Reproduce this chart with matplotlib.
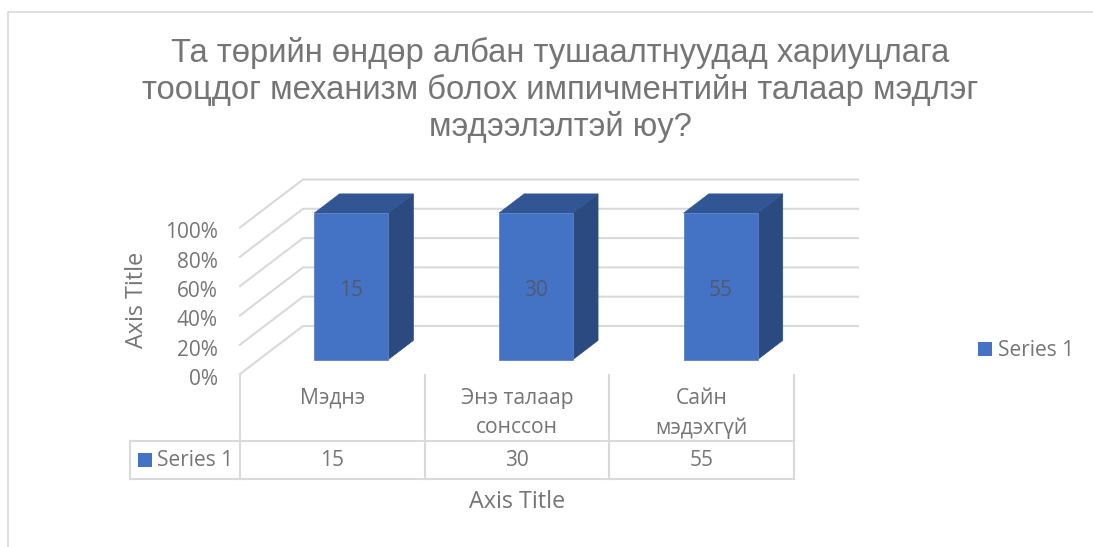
import matplotlib
matplotlib.use('Agg')
import matplotlib.pyplot as plt
from matplotlib.patches import Polygon, Rectangle
from matplotlib.transforms import ScaledTranslation

title = 'Та төрийн өндөр албан тушаалтнуудад хариуцлага\nтооцдог механизм болох импичментийн талаар мэдлэг\nмэдээлэлтэй юу?'
categories = ['Мэднэ', 'Энэ талаар\nсонссон', 'Сайн\nмэдэхгүй']
series_name = 'Series 1'
series = [15, 30, 55]
pct_ticks = [0, 20, 40, 60, 80, 100]

W, H = 1093, 547
GRID = '#d9d9d9'
TEXT = '#757575'
FRONT = '#4472c4'
SIDE = '#2a4a80'
TOP = '#325593'
FONT = 'Open Sans'

# pixel positions of the plot box
X0, X1, Y0, YBACK = 240, 858, 374, 180
CAT_PX = 184.67
PCT_PX = 1.465
DEPTH_X = 63 / CAT_PX
DEPTH_Y = 48 / PCT_PX


def proj(x, pct, depth):
    return x + depth * DEPTH_X, pct + depth * DEPTH_Y


fig = plt.figure(figsize=(W / 100, H / 100), dpi=100, facecolor='white')

# overlay in pixels, for frame, table and legend
ov = fig.add_axes([0, 0, 1, 1])
ov.set_xlim(0, W)
ov.set_ylim(H, 0)
ov.axis('off')

ov.plot([8, 8, W], [H, 12, 12], color=GRID, lw=1.2)
ov.text(560, 90, title, ha='center', va='center', fontsize=23.6, color=TEXT,
        family='Liberation Sans', linespacing=1.21)

ax = fig.add_axes([X0 / W, (H - Y0) / H, (X1 - X0) / W, (Y0 - YBACK) / H])
ax.set_xlim(0, (X1 - X0) / CAT_PX)
ax.set_ylim(0, (Y0 - YBACK) / PCT_PX)
ax.patch.set_visible(False)
for s in ax.spines.values():
    s.set_visible(False)

ax.set_yticks(pct_ticks)
ax.set_yticklabels(['%d%%' % p for p in pct_ticks], fontsize=15, color=TEXT, family=FONT)
ax.tick_params(axis='y', length=0, pad=16)
for lab in ax.get_yticklabels():
    lab.set_transform(lab.get_transform() + ScaledTranslation(0, -3 / 100, fig.dpi_scale_trans))
ax.set_xticks([i + 0.5 for i in range(len(categories))])
ax.set_xticklabels(categories, fontsize=15.2, color=TEXT, family=FONT, linespacing=1.5)
ax.tick_params(axis='x', length=0, pad=10)

# walls
for p in pct_ticks:
    xa, ya = proj(0, p, 0)
    xb, yb = proj(0, p, 1)
    xc = ax.get_xlim()[1]
    ax.plot([xa, xb, xc], [ya, yb, yb], color=GRID, lw=1.5, clip_on=False, zorder=1)

# 100% stacked with one series, every bar fills the whole axis
for i, v in enumerate(series):
    share = v / v * 100
    l, r = i + 0.3, i + 0.7
    d0, d1 = 0.3, 0.7
    side = [proj(r, 0, d0), proj(r, 0, d1), proj(r, share, d1), proj(r, share, d0)]
    top = [proj(l, share, d0), proj(r, share, d0), proj(r, share, d1), proj(l, share, d1)]
    front = [proj(l, 0, d0), proj(r, 0, d0), proj(r, share, d0), proj(l, share, d0)]
    ax.add_patch(Polygon(side, fc=SIDE, ec=SIDE, lw=0.5, zorder=3))
    ax.add_patch(Polygon(top, fc=TOP, ec=TOP, lw=0.5, zorder=3))
    ax.add_patch(Polygon(front, fc=FRONT, ec='#5b82c8', lw=0.6, zorder=4))
    ax.annotate(str(v), proj(i + 0.5, share / 2, d0), xytext=(0, -3), textcoords='offset points',
                ha='center', va='center', fontsize=15, color='#505a6e', family=FONT, zorder=5)

# data table below the axis
TX = [240 + CAT_PX * i for i in range(len(series) + 1)]
TY0, TY1 = 441, 479
for x in TX:
    ov.plot([x, x], [Y0 + 1, TY1], color=GRID, lw=1.5)
ov.plot([130, TX[-1]], [TY0, TY0], color=GRID, lw=1.5)
ov.plot([130, TX[-1]], [TY1, TY1], color=GRID, lw=1.5)
ov.plot([130, 130], [TY0, TY1], color=GRID, lw=1.5)
ov.add_patch(Rectangle((138, 453), 14, 14, fc=FRONT, ec='none'))
ov.text(157, 461, series_name, ha='left', va='center', fontsize=15, color=TEXT, family=FONT)
for i, v in enumerate(series):
    ov.text(TX[i] + CAT_PX / 2, 461, str(v), ha='center', va='center', fontsize=15,
            color=TEXT, family=FONT)

ov.text(137, 300, 'Axis Title', rotation=90, ha='center', va='center', fontsize=16.8,
        color=TEXT, family=FONT)
ov.text(517, 502.5, 'Axis Title', ha='center', va='center', fontsize=16.8, color=TEXT, family=FONT)

# legend
ov.add_patch(Rectangle((978, 342), 14, 14, fc=FRONT, ec='none'))
ov.text(998, 350, series_name, ha='left', va='center', fontsize=15, color=TEXT, family=FONT)

fig.savefig('out.png', dpi=100)
